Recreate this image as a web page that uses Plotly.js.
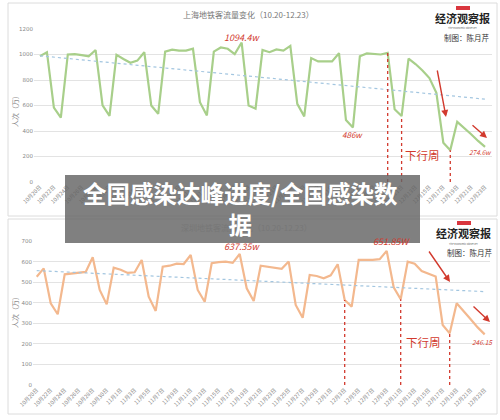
<!DOCTYPE html>
<html>
<head>
<meta charset="utf-8">
<script src="https://cdn.plot.ly/plotly-3.0.1.min.js"></script>
<style>html,body{margin:0;padding:0;background:#fff;}#chart{width:500px;height:420px;}</style>
</head>
<body>
<div id="chart"></div>
<script>
const dates = [
 "10月20日","10月21日","10月22日","10月23日","10月24日","10月25日","10月26日","10月27日","10月28日","10月29日","10月30日","10月31日",
 "11月1日","11月2日","11月3日","11月4日","11月5日","11月6日","11月7日","11月8日","11月9日","11月10日",
 "11月11日","11月12日","11月13日","11月14日","11月15日","11月16日","11月17日","11月18日","11月19日","11月20日",
 "11月21日","11月22日","11月23日","11月24日","11月25日","11月26日","11月27日","11月28日","11月29日","11月30日",
 "12月1日","12月2日","12月3日","12月4日","12月5日","12月6日","12月7日","12月8日","12月9日","12月10日",
 "12月11日","12月12日","12月13日","12月14日","12月15日","12月16日","12月17日","12月18日","12月19日","12月20日",
 "12月21日","12月22日","12月23日"
];
const shanghai = [
 987,1018,583,505,1000,1003,995,985,1035,601,518,997,
 965,935,952,1018,600,535,1023,1038,1030,1030,
 1045,626,522,1023,1055,1045,1003,1094,600,575,
 1035,1018,1040,1030,1068,613,515,972,946,946,
 946,1010,486,428,987,1008,1003,1000,1013,570,
 517,968,925,875,815,700,308,250,472,425,
 375,322,275
];
const shenzhen = [
 526,567,397,344,538,541,545,550,621,462,392,570,
 560,545,548,608,429,360,575,580,590,588,
 632,462,405,592,597,600,594,637,470,408,
 580,575,570,565,600,389,327,535,530,519,
 533,587,413,381,608,608,608,612,652,475,
 417,600,590,554,540,527,292,251,397,360,
 320,280,246
];
const shTrend = [990, 650];
const szTrend = [556, 454];
const shMarks = ["12月9日","12月11日","12月18日"];
const szMarks = ["12月3日","12月11日","12月18日"];
const shTicks = [0,200,400,600,800,1000,1200];
const szTicks = [0,100,200,300,400,500,600,700];

const W = 500, H = 420;
const px = v => v / W, py = v => 1 - v / H;
const CJK = '"Noto Sans CJK SC", "Noto Sans", sans-serif';
const RED = '#d23a2e';

const traces = [];
traces.push({x: dates, y: shanghai, type: 'scatter', mode: 'lines', xaxis: 'x', yaxis: 'y',
  line: {color: '#a8cf8a', width: 2.2}, hoverinfo: 'skip'});
traces.push({x: [dates[0], dates[dates.length-1]], y: shTrend, type: 'scatter', mode: 'lines', xaxis: 'x', yaxis: 'y',
  line: {color: '#a3c6e0', width: 1.2, dash: 'dot'}});
traces.push({x: dates, y: shenzhen, type: 'scatter', mode: 'lines', xaxis: 'x2', yaxis: 'y2',
  line: {color: '#f3b88e', width: 2.2}, hoverinfo: 'skip'});
traces.push({x: [dates[0], dates[dates.length-1]], y: szTrend, type: 'scatter', mode: 'lines', xaxis: 'x2', yaxis: 'y2',
  line: {color: '#a3c6e0', width: 1.2, dash: 'dot'}});
shMarks.forEach(d => {
  traces.push({x: [d, d], y: [0, shanghai[dates.indexOf(d)]], type: 'scatter', mode: 'lines', xaxis: 'x', yaxis: 'y',
    line: {color: RED, width: 1.3, dash: 'dot'}});
});
szMarks.forEach(d => {
  traces.push({x: [d, d], y: [0, shenzhen[dates.indexOf(d)]], type: 'scatter', mode: 'lines', xaxis: 'x2', yaxis: 'y2',
    line: {color: RED, width: 1.3, dash: 'dot'}});
});

const xCommon = {type: 'category', categoryorder: 'array', categoryarray: dates, dtick: 2, tickangle: -45,
  tickfont: {family: CJK, size: 5.5, color: '#888'}, showgrid: false, zeroline: false, showline: false, ticks: ''};
const yCommon = {showgrid: true, gridcolor: '#e3e3e3', gridwidth: 1, zeroline: false, showline: false, ticks: '',
  tickfont: {family: 'DejaVu Sans, sans-serif', size: 5.5, color: '#888'}};

const ann = [];
function txt(text, x, y, size, color, extra) {
  ann.push(Object.assign({text: text, xref: 'paper', yref: 'paper', x: px(x), y: py(y), showarrow: false,
    xanchor: 'center', yanchor: 'middle', font: {family: CJK, size: size, color: color}}, extra || {}));
}
// chart titles
txt('上海地铁客流量变化（10.20-12.23）', 248, 15, 8, '#777');
txt('深圳地铁客流量变化（10.20-12.23）', 246, 227, 8, '#777');
// logos
txt('<b>经济观察报</b>', 462, 18, 11, '#222');
txt('The Economic Observer', 462, 28.5, 2.6, '#666');
txt('制图：陈月芹', 467, 37, 7.5, '#333');
txt('<b>经济观察报</b>', 463, 233, 11, '#222');
txt('The Economic Observer', 463, 243.5, 2.6, '#666');
txt('制图：陈月芹', 470, 252, 7.5, '#333');
// y titles
txt('人次（万）', 15, 110, 7, '#888', {textangle: -90});
txt('人次（万）', 15, 311, 7, '#888', {textangle: -90});
// handwritten notes
txt('<i>1094.4w</i>', 242, 37, 9, RED);
txt('<i>486w</i>', 352, 134, 8, RED);
txt('下行周', 422, 155, 11.5, RED);
txt('<i>274.6w</i>', 480, 152, 6.5, RED);
txt('<i>637.35w</i>', 242, 246, 9, RED);
txt('<i>651.85W</i>', 391, 242, 9, RED);
txt('下行周', 423, 342, 11.5, RED);
txt('<i>246.15</i>', 482, 342, 6.5, RED);
// arrows
function arrow(xh, yh, xt, yt) {
  ann.push({xref: 'paper', yref: 'paper', x: px(xh), y: py(yh), ax: xt - xh, ay: yt - yh, axref: 'pixel', ayref: 'pixel',
    showarrow: true, arrowhead: 2, arrowsize: 1, arrowwidth: 1.4, arrowcolor: RED, text: ''});
}
arrow(446, 117, 437, 69);
arrow(487, 138, 471, 124);
arrow(450, 282, 428, 250);
arrow(490, 322, 472, 305);
// banner text
txt('<b>全国感染达峰进度/全国感染数<br>据</b>', 240, 208, 23.5, '#ffffff');

const shapes = [
  {type: 'rect', xref: 'paper', yref: 'paper', x0: px(8), x1: px(497), y0: py(3), y1: py(216), line: {color: '#dcdcdc', width: 1}, fillcolor: 'rgba(0,0,0,0)', layer: 'below'},
  {type: 'rect', xref: 'paper', yref: 'paper', x0: px(8), x1: px(497), y0: py(219), y1: py(414), line: {color: '#dcdcdc', width: 1}, fillcolor: 'rgba(0,0,0,0)', layer: 'below'},
  {type: 'rect', xref: 'paper', yref: 'paper', x0: px(456), x1: px(470), y0: py(6), y1: py(10), line: {width: 0}, fillcolor: '#d9363e'},
  {type: 'rect', xref: 'paper', yref: 'paper', x0: px(457), x1: px(471), y0: py(221), y1: py(225), line: {width: 0}, fillcolor: '#d9363e'},
  {type: 'rect', xref: 'paper', yref: 'paper', x0: px(65), x1: px(420), y0: py(175), y1: py(243), line: {width: 0}, fillcolor: 'rgba(100,100,100,0.82)', layer: 'above'}
];

const layout = {
  width: W, height: H, margin: {l: 0, r: 0, t: 0, b: 0}, showlegend: false,
  paper_bgcolor: '#ffffff', plot_bgcolor: 'rgba(0,0,0,0)',
  xaxis: Object.assign({}, xCommon, {domain: [px(34), px(492)], range: [-0.86, 65.0], anchor: 'y'}),
  yaxis: Object.assign({}, yCommon, {domain: [py(182), py(29)], range: [0, 1200], tickvals: shTicks, anchor: 'x'}),
  xaxis2: Object.assign({}, xCommon, {domain: [px(33), px(490)], range: [-0.53, 64.76], anchor: 'y2'}),
  yaxis2: Object.assign({}, yCommon, {domain: [py(385), py(241)], range: [0, 700], tickvals: szTicks, anchor: 'x2'}),
  annotations: ann, shapes: shapes
};
Plotly.newPlot('chart', traces, layout, {staticPlot: true, displayModeBar: false});
</script>
</body>
</html>
